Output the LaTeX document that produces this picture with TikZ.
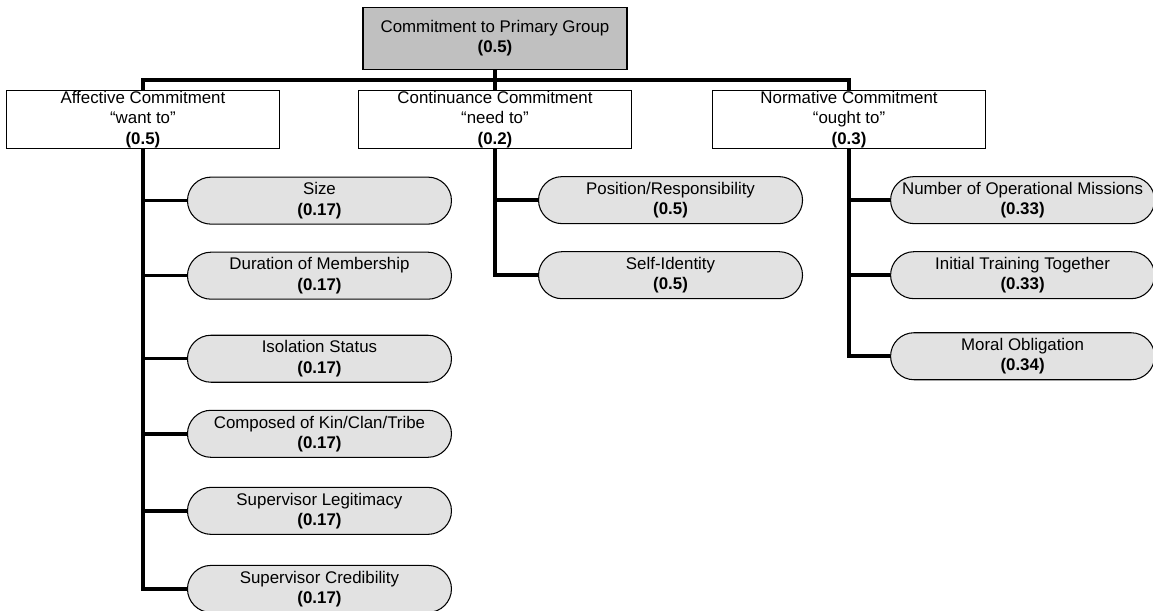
\documentclass[tikz,border=0pt]{standalone}
\usepackage{fontspec}
\setmainfont{Liberation Sans}
\usepackage{xcolor}
\usepackage{tikz}
\usetikzlibrary{positioning, calc}

\definecolor{topgray}{RGB}{192,192,192}
\definecolor{leafgray}{RGB}{226,226,226}

\begin{document}
\begin{tikzpicture}[
    node distance=0.4cm and 1.56cm,
    box/.style={rectangle, draw, line width=0.6pt, inner sep=0pt, align=center, font=\fontsize{9.6}{11.5}\selectfont},
    topbox/.style={box, fill=topgray, minimum width=5.28cm, minimum height=1.24cm},
    catbox/.style={box, fill=white, minimum width=5.46cm, minimum height=1.16cm},
    leaf/.style={box, fill=leafgray, rounded corners=0.47cm, minimum width=5.28cm, minimum height=0.94cm},
    link/.style={line width=2pt},
]
\useasboundingbox (0,0) rectangle (23.06,-12.22);

% top
\node[topbox, anchor=north] (top) at (9.9,-0.14) {Commitment to Primary Group\\\textbf{(0.5)}};

% three kinds of commitment
\node[catbox, below=of top] (cont) {Continuance Commitment\\“need to”\\\textbf{(0.2)}};
\node[catbox, left=of cont] (aff) {Affective Commitment\\“want to”\\\textbf{(0.5)}};
\node[catbox, right=1.6cm of cont] (norm) {Normative Commitment\\“ought to”\\\textbf{(0.3)}};

% affective
\node[leaf, below right=0.55cm and 0.88cm of aff.south] (size) {Size\\\textbf{(0.17)}};
\node[leaf, below=0.54cm of size] (dur) {Duration of Membership\\\textbf{(0.17)}};
\node[leaf, below=0.70cm of dur] (iso) {Isolation Status\\\textbf{(0.17)}};
\node[leaf, below=0.54cm of iso] (kin) {Composed of Kin/Clan/Tribe\\\textbf{(0.17)}};
\node[leaf, below=0.58cm of kin] (legit) {Supervisor Legitimacy\\\textbf{(0.17)}};
\node[leaf, below=0.60cm of legit] (cred) {Supervisor Credibility\\\textbf{(0.17)}};

% continuance
\node[leaf, below right=0.54cm and 0.86cm of cont.south] (pos) {Position/Responsibility\\\textbf{(0.5)}};
\node[leaf, below=0.54cm of pos] (self) {Self-Identity\\\textbf{(0.5)}};

% normative
\node[leaf, below right=0.54cm and 0.82cm of norm.south] (miss) {Number of Operational Missions\\\textbf{(0.33)}};
\node[leaf, below=0.54cm of miss] (train) {Initial Training Together\\\textbf{(0.33)}};
\node[leaf, below=0.66cm of train] (moral) {Moral Obligation\\\textbf{(0.34)}};

% links
\coordinate (bar) at ($(top.south)!0.5!(cont.north)$);
\draw[link] (top) -- (cont);
\draw[link] (aff.north) |- (bar) -| (norm.north);

\draw[link] (aff.south) |- (cred.west);
\foreach \n in {size,dur,iso,kin,legit}
    \draw[link] (aff.south |- \n.west) -- (\n.west);

\draw[link] (cont.south) |- (self.west);
\draw[link] (cont.south |- pos.west) -- (pos.west);

\draw[link] (norm.south) |- (moral.west);
\foreach \n in {miss,train}
    \draw[link] (norm.south |- \n.west) -- (\n.west);

\end{tikzpicture}
\end{document}
